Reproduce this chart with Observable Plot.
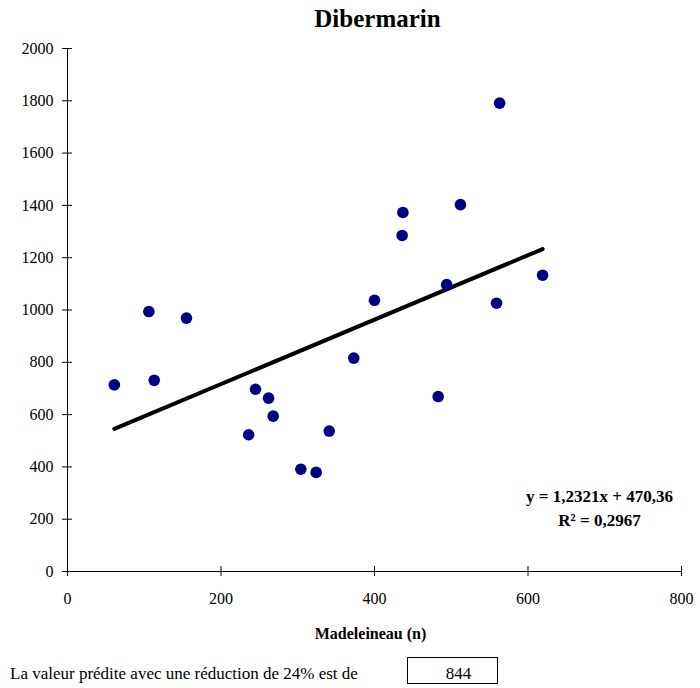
<!DOCTYPE html>
<html><head><meta charset="utf-8">
<script src="https://cdn.jsdelivr.net/npm/d3@7"></script>
<script src="https://cdn.jsdelivr.net/npm/@observablehq/plot@0.6"></script>
<style>
body{margin:0;background:#fff;font-family:"Liberation Serif","Times New Roman",serif;}
#wrap{position:relative;width:700px;height:688px;overflow:hidden;}
#wrap svg{position:absolute;left:0;top:0;}
.foot{position:absolute;font-size:17px;line-height:17px;color:#000;white-space:nowrap;font-family:"Liberation Serif","Times New Roman",serif;}
#box{position:absolute;left:407px;top:657px;width:91px;height:27px;box-sizing:border-box;border:1px solid #000;}
</style></head><body><div id="wrap"></div>
<script>
const title = "Dibermarin";
const xLabel = "Madeleineau (n)";
const madeleineau = [61, 106, 113, 155, 236, 245, 262, 268, 304, 324, 341, 373, 400, 436, 437, 483, 494, 512, 559, 563, 619];
const dibermarin  = [714, 994, 731, 969, 523, 697, 663, 594, 391, 379, 537, 816, 1037, 1285, 1373, 669, 1097, 1403, 1026, 1791, 1133];
const slope = 1.2321, intercept = 470.36, r2 = 0.2967;
const xTicks = [0, 200, 400, 600, 800];
const yTicks = [0, 200, 400, 600, 800, 1000, 1200, 1400, 1600, 1800, 2000];
const footerText = "La valeur prédite avec une réduction de 24% est de";
const predictedValue = 844;

const W = 700, H = 645;
const mL = 67, mR = 19, mT = 48, mB = 74;
const frameW = W - mL - mR;
const frameH = H - mT - mB;
const data = madeleineau.map((x, i) => ({x, y: dibermarin[i]}));
const fit = d3.extent(madeleineau).map(x => ({x, y: slope * x + intercept}));
const fmt = v => String(v).replace(".", ",");
const eq = `y = ${fmt(slope)}x + ${fmt(intercept)}\nR² = ${fmt(r2)}`;

const chart = Plot.plot({
  width: W, height: H,
  marginLeft: mL, marginRight: mR, marginTop: mT, marginBottom: mB,
  style: {fontFamily: "'Liberation Serif','Times New Roman',serif", fontSize: "16px", color: "#000", background: "#fff", overflow: "visible"},
  x: {domain: [0, 800]},
  y: {domain: [0, 2000]},
  marks: [
    Plot.axisX(xTicks, {tickSize: 0, tickPadding: 21, label: null, tickFormat: d => String(d)}),
    Plot.axisY(yTicks, {tickSize: 0, tickPadding: 14, label: null, tickFormat: d => String(d)}),
    Plot.tickY(yTicks, {y: d => d, insetRight: frameW - 10, dx: -5, stroke: "#000"}),
    Plot.tickX(xTicks, {x: d => d, insetTop: frameH - 10, dy: 5, stroke: "#000"}),
    Plot.ruleX([0], {stroke: "#000"}),
    Plot.ruleY([0], {stroke: "#000"}),
    Plot.line(fit, {x: "x", y: "y", stroke: "#000", strokeWidth: 4}),
    Plot.dot(data, {x: "x", y: "y", r: 5.8, fill: "#000080"}),
    Plot.text([eq], {frameAnchor: "bottom-right", dx: -82, dy: -46, textAnchor: "middle", lineAnchor: "bottom", lineHeight: 1.41, fontWeight: "bold", fontSize: 17}),
    Plot.text([title], {frameAnchor: "top", dx: 3, dy: -22, lineAnchor: "bottom", fontWeight: "bold", fontSize: 25}),
    Plot.text([xLabel], {frameAnchor: "bottom", dx: -4, dy: 67, lineAnchor: "bottom", fontWeight: "bold", fontSize: 16})
  ]
});
const wrap = document.getElementById("wrap");
wrap.appendChild(chart);
const ft = document.createElement("div");
ft.className = "foot"; ft.style.left = "10px"; ft.style.top = "665px"; ft.textContent = footerText;
wrap.appendChild(ft);
const box = document.createElement("div"); box.id = "box"; wrap.appendChild(box);
const pv = document.createElement("div");
pv.className = "foot"; pv.style.left = "413px"; pv.style.top = "665px"; pv.style.width = "91px"; pv.style.textAlign = "center";
pv.textContent = String(predictedValue);
wrap.appendChild(pv);
</script></body></html>
